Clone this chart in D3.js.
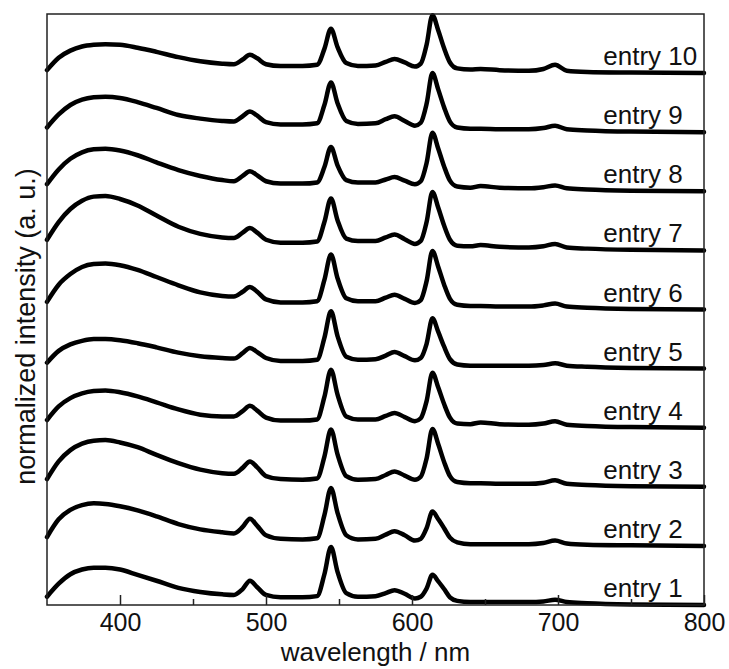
<!DOCTYPE html>
<html>
<head>
<meta charset="utf-8">
<script src="https://cdn.jsdelivr.net/npm/d3@7"></script>
<style>
  html, body { margin: 0; padding: 0; background: #fff; }
  svg { display: block; font-family: "Liberation Sans", Arial, sans-serif; }
</style>
</head>
<body>
<svg id="chart" width="729" height="669"></svg>
<script>
// Wavelength sample points (nm)
const wavelengths = [350, 358, 366, 374, 382, 390, 400, 412, 425, 440, 455, 470, 478,
  484, 489, 494, 500, 510, 525, 535,
  540, 544.5, 549, 555, 563,
  575, 582, 588, 595, 602,
  606, 610, 614, 618, 622, 626, 631,
  640, 647, 660, 680, 690, 698, 706, 720, 750, 800];

const entryNames = ["entry 1", "entry 2", "entry 3", "entry 4", "entry 5",
                    "entry 6", "entry 7", "entry 8", "entry 9", "entry 10"];

// Normalized intensities, one list per entry
const entry1 = [.14,.36,.52,.60,.63,.63,.60,.51,.41,.29,.22,.18,.17,
  .27,.41,.30,.17,.13,.13,.15, .52,.98,.56,.20,.14, .15,.20,.25,.19,.11,
  .14,.28,.51,.40,.27,.13,.07, .05,.05,.05,.05,.06,.09,.05,.03,.01,.00];
const entry2 = [.15,.45,.61,.69,.72,.71,.67,.60,.50,.37,.28,.23,.21,
  .32,.46,.34,.18,.12,.11,.13, .52,.98,.56,.18,.11, .12,.19,.25,.18,.09,
  .12,.30,.58,.45,.30,.14,.06, .03,.03,.03,.03,.05,.09,.04,.02,.01,.00];
const entry3 = [.13,.43,.62,.73,.78,.79,.75,.67,.54,.40,.29,.23,.22,
  .32,.43,.33,.18,.13,.12,.14, .51,.97,.55,.18,.12, .13,.20,.26,.19,.12,
  .17,.48,.98,.72,.42,.18,.08, .06,.06,.05,.05,.07,.11,.05,.03,.01,.00];
const entry4 = [.13,.36,.50,.58,.62,.63,.60,.53,.43,.31,.22,.19,.19,
  .28,.37,.29,.17,.12,.12,.14, .52,.98,.56,.19,.14, .14,.20,.25,.18,.11,
  .16,.45,.93,.68,.40,.17,.07, .06,.09,.06,.05,.07,.11,.05,.03,.01,.00];
const entry5 = [.10,.30,.41,.47,.50,.50,.48,.43,.36,.27,.21,.18,.17,
  .26,.35,.28,.18,.13,.13,.15, .52,.97,.55,.20,.15, .16,.22,.28,.21,.14,
  .18,.42,.85,.62,.37,.16,.07, .05,.05,.05,.05,.06,.09,.05,.03,.01,.00];
const entry6 = [.13,.42,.60,.72,.77,.78,.75,.67,.55,.41,.29,.23,.22,
  .30,.38,.30,.17,.12,.12,.14, .50,.93,.53,.19,.14, .14,.20,.25,.18,.11,
  .16,.48,.99,.72,.42,.18,.08, .06,.06,.05,.05,.07,.10,.05,.03,.01,.00];
const entry7 = [.18,.48,.70,.84,.91,.92,.87,.76,.59,.40,.28,.22,.21,
  .30,.38,.30,.18,.13,.13,.15, .48,.88,.51,.20,.16, .16,.22,.27,.19,.11,
  .16,.48,.99,.72,.42,.18,.08, .07,.09,.06,.05,.07,.11,.05,.03,.01,.00];
const entry8 = [.12,.37,.55,.66,.71,.72,.69,.61,.49,.36,.26,.19,.17,
  .26,.34,.27,.17,.13,.13,.15, .41,.75,.44,.19,.15, .15,.20,.24,.18,.12,
  .17,.48,.99,.72,.42,.18,.08, .06,.09,.06,.05,.07,.10,.05,.03,.01,.00];
const entry9 = [.08,.30,.46,.55,.59,.60,.58,.51,.41,.29,.23,.19,.18,
  .27,.35,.28,.17,.13,.13,.15, .46,.84,.49,.19,.14, .15,.22,.27,.19,.11,
  .16,.48,1.0,.72,.42,.18,.08, .06,.06,.05,.05,.07,.11,.05,.03,.01,.00];
const entry10 = [.05,.26,.38,.45,.48,.49,.48,.43,.36,.27,.20,.16,.15,
  .23,.31,.25,.15,.12,.12,.14, .41,.75,.44,.17,.12, .13,.19,.24,.18,.11,
  .16,.48,.98,.72,.42,.18,.08, .06,.07,.05,.04,.07,.14,.04,.02,.01,.00];

const series = [entry1, entry2, entry3, entry4, entry5, entry6, entry7, entry8, entry9, entry10];

const majorTicks = [400, 500, 600, 700, 800];
const minorTicks = [450, 550, 650, 750];

const xLabel = "wavelength / nm";
const yLabel = "normalized intensity (a. u.)";

// ---- drawing ----
const svg = d3.select("#chart");
const x = d3.scaleLinear().domain([350, 800]).range([47, 704]);
const y = d3.scaleLinear().domain([0, 10]).range([605, 14]);

const line = d3.line()
  .x(d => x(d[0]))
  .y(d => y(d[1]))
  .curve(d3.curveMonotoneX);

const plot = svg.append("g");

series.forEach((vals, i) => {
  const pts = wavelengths.map((w, j) => [w, vals[j] + i]);
  plot.append("path")
    .attr("d", line(pts))
    .attr("fill", "none")
    .attr("stroke", "#000")
    .attr("stroke-width", 4.5)
    .attr("stroke-linejoin", "round")
    .attr("stroke-linecap", "round");
  plot.append("text")
    .attr("x", x(731))
    .attr("y", y(i) - 8)
    .attr("font-size", 26)
    .attr("fill", "#111")
    .text(entryNames[i]);
});

// frame
svg.append("rect")
  .attr("x", x(350)).attr("y", y(10))
  .attr("width", x(800) - x(350)).attr("height", y(0) - y(10))
  .attr("fill", "none").attr("stroke", "#222").attr("stroke-width", 1.5);

// axes (ticks pointing inward)
const axMajor = svg.append("g")
  .attr("transform", `translate(0,${y(0)})`)
  .call(d3.axisBottom(x).tickValues(majorTicks).tickSize(-10).tickPadding(8).tickFormat(d3.format("d")));
const axMinor = svg.append("g")
  .attr("transform", `translate(0,${y(0)})`)
  .call(d3.axisBottom(x).tickValues(minorTicks).tickSize(-6).tickFormat(""));
[axMajor, axMinor].forEach(a => {
  a.select(".domain").remove();
  a.selectAll("line").attr("stroke", "#222").attr("stroke-width", 1.5);
});
axMajor.selectAll("text")
  .attr("font-size", 25)
  .attr("font-family", "Liberation Sans, Arial, sans-serif")
  .attr("fill", "#111");

svg.append("text")
  .attr("x", (x(350) + x(800)) / 2)
  .attr("y", 661)
  .attr("text-anchor", "middle")
  .attr("font-size", 26)
  .attr("fill", "#111")
  .text(xLabel);

svg.append("text")
  .attr("transform", `translate(35,${(y(0) + y(10)) / 2 + 17}) rotate(-90)`)
  .attr("text-anchor", "middle")
  .attr("font-size", 27)
  .attr("fill", "#111")
  .text(yLabel);
</script>
</body>
</html>
